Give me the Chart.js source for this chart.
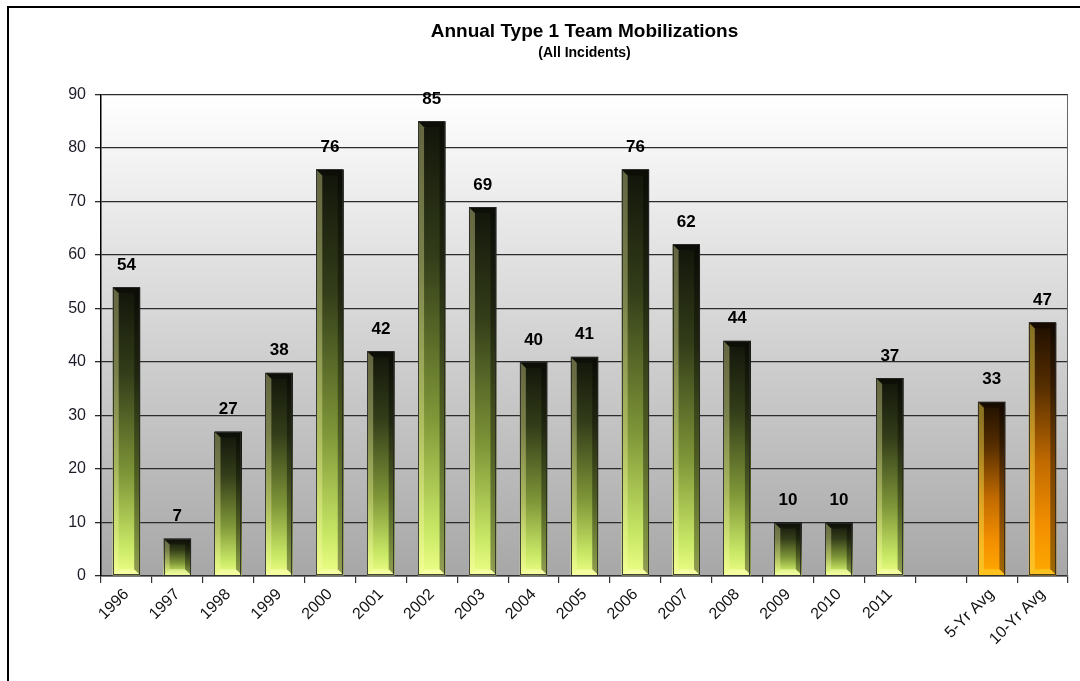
<!DOCTYPE html>
<html>
<head>
<meta charset="utf-8">
<title>Annual Type 1 Team Mobilizations</title>
<script src="https://cdn.jsdelivr.net/npm/chart.js@4.4.1/dist/chart.umd.min.js"></script>
<style>
  html, body { margin: 0; padding: 0; background: #fff; }
  #wrap { width: 1080px; height: 681px; }
</style>
</head>
<body>
<div id="wrap"><canvas id="mobChart" width="1080" height="681"></canvas></div>
<script>
(function () {
    'use strict';

    // Data
    const yearLabels = ['1996', '1997', '1998', '1999', '2000', '2001', '2002', '2003',
        '2004', '2005', '2006', '2007', '2008', '2009', '2010', '2011'];
    const yearValues = [54, 7, 27, 38, 76, 42, 85, 69, 40, 41, 76, 62, 44, 10, 10, 37];
    const avgLabels = ['5-Yr Avg', '10-Yr Avg'];
    const avgValues = [32.6, 47.4];
    const yTicks = [0, 10, 20, 30, 40, 50, 60, 70, 80, 90];

    // one empty slot between the years and the averages
    const labels = yearLabels.concat([''], avgLabels);
    const values = yearValues.concat([null], avgValues);
    const firstAvg = yearLabels.length + 1;

    const FONT = "'Liberation Sans', Arial, sans-serif";
    const GREEN_STOPS = [[0, '#11140a'], [0.3, '#333d19'], [0.65, '#7f9638'], [0.9, '#c9e866'], [1, '#eeff88']];
    const ORANGE_STOPS = [[0, '#1e0f00'], [0.25, '#552d00'], [0.55, '#c06a00'], [0.8, '#f38f00'], [1, '#ffaa00']];

    function barFill(context) {
        const chart = context.chart;
        if (!chart.chartArea || context.type !== 'data') return '#888';
        const v = context.raw;
        if (v == null) return 'rgba(0,0,0,0)';
        const y = chart.scales.y;
        const top = y.getPixelForValue(v);
        const base = y.getPixelForValue(0);
        const g = chart.ctx.createLinearGradient(0, top, 0, base);
        const stops = context.dataIndex >= firstAvg ? ORANGE_STOPS : GREEN_STOPS;
        stops.forEach(s => g.addColorStop(s[0], s[1]));
        return g;
    }

    // plot background + outer frame
    const plotBackground = {
        id: 'plotBackground',
        beforeDraw(chart) {
            const { ctx, chartArea: a } = chart;
            ctx.save();
            ctx.fillStyle = '#fff';
            ctx.fillRect(0, 0, chart.width, chart.height);
            const g = ctx.createLinearGradient(0, a.top, 0, a.bottom);
            g.addColorStop(0, '#ffffff');
            g.addColorStop(1, '#a7a7a7');
            ctx.fillStyle = g;
            ctx.fillRect(a.left, a.top, a.right - a.left, a.bottom - a.top);
            ctx.strokeStyle = '#000';
            ctx.lineWidth = 2;
            ctx.beginPath();
            ctx.moveTo(8, chart.height);
            ctx.lineTo(8, 7);
            ctx.lineTo(chart.width, 7);
            ctx.stroke();
            ctx.restore();
        },
        afterDraw(chart) {
            const { ctx, chartArea: a } = chart;
            ctx.save();
            ctx.strokeStyle = '#666';
            ctx.lineWidth = 1;
            ctx.beginPath();
            ctx.moveTo(a.right - 0.5, a.top);
            ctx.lineTo(a.right - 0.5, a.bottom);
            ctx.stroke();
            ctx.restore();
        }
    };

    // bevel edges and value labels on top of the bars
    const bevelBars = {
        id: 'bevelBars',
        afterDatasetsDraw(chart) {
            const ctx = chart.ctx;
            const meta = chart.getDatasetMeta(0);
            const data = chart.data.datasets[0].data;
            ctx.save();
            meta.data.forEach((bar, i) => {
                const v = data[i];
                if (v == null) return;
                const p = bar.getProps(['x', 'y', 'base', 'width'], true);
                const l = p.x - p.width / 2, r = p.x + p.width / 2;
                const t = p.y, b = p.base;
                const e = Math.min(6, (b - t) / 3);
                const avg = i >= firstAvg;

                // left highlight
                ctx.fillStyle = avg ? 'rgba(255,230,80,0.45)' : 'rgba(255,255,170,0.35)';
                ctx.beginPath();
                ctx.moveTo(l, t); ctx.lineTo(l + e, t + e); ctx.lineTo(l + e, b - e); ctx.lineTo(l, b);
                ctx.fill();
                // right shade
                ctx.fillStyle = 'rgba(0,0,0,0.38)';
                ctx.beginPath();
                ctx.moveTo(r, t); ctx.lineTo(r - e, t + e); ctx.lineTo(r - e, b - e); ctx.lineTo(r, b);
                ctx.fill();
                // top shade
                ctx.fillStyle = 'rgba(0,0,0,0.3)';
                ctx.beginPath();
                ctx.moveTo(l, t); ctx.lineTo(r, t); ctx.lineTo(r - e, t + e); ctx.lineTo(l + e, t + e);
                ctx.fill();
                // bottom highlight
                ctx.fillStyle = avg ? 'rgba(255,220,60,0.5)' : 'rgba(255,255,190,0.5)';
                ctx.beginPath();
                ctx.moveTo(l, b); ctx.lineTo(r, b); ctx.lineTo(r - e, b - e); ctx.lineTo(l + e, b - e);
                ctx.fill();

                // outline
                ctx.strokeStyle = 'rgba(40,40,40,0.85)';
                ctx.lineWidth = 1;
                ctx.strokeRect(Math.round(l) + 0.5, Math.round(t) + 0.5, Math.round(r - l) - 1, Math.round(b - t) - 1);

                // value label
                ctx.fillStyle = '#000';
                ctx.font = 'bold 17px ' + FONT;
                ctx.textAlign = 'center';
                ctx.textBaseline = 'middle';
                ctx.fillText(String(Math.round(v)), p.x, t - 22);
            });
            ctx.restore();
        }
    };

    new Chart(document.getElementById('mobChart'), {
        type: 'bar',
        data: {
            labels: labels,
            datasets: [{
                label: 'Mobilizations',
                data: values,
                backgroundColor: barFill,
                borderWidth: 0,
                barPercentage: 0.54,
                categoryPercentage: 1.0,
            }],
        },
        options: {
            responsive: false,
            animation: false,
            devicePixelRatio: 1,
            layout: { padding: { left: 10, right: 12, top: 10, bottom: 13 } },
            plugins: {
                legend: { display: false },
                tooltip: { enabled: false },
                title: {
                    display: true,
                    fullSize: false,
                    text: 'Annual Type 1 Team Mobilizations',
                    color: '#000',
                    font: { family: FONT, size: 19, weight: 'bold', lineHeight: 1.2 },
                    padding: { top: 10, bottom: 0 },
                },
                subtitle: {
                    display: true,
                    fullSize: false,
                    text: '(All Incidents)',
                    color: '#000',
                    font: { family: FONT, size: 14, weight: 'bold', lineHeight: 1.2 },
                    padding: { top: 2, bottom: 33 },
                },
            },
            scales: {
                x: {
                    offset: true,
                    grid: { offset: true, drawOnChartArea: false, drawTicks: true, tickLength: 7, color: '#333', lineWidth: 1.2 },
                    border: { color: '#333', width: 1.5 },
                    ticks: {
                        autoSkip: false,
                        minRotation: 45,
                        maxRotation: 45,
                        padding: 2,
                        color: '#111',
                        font: { family: FONT, size: 16 },
                    },
                    afterFit(scale) { scale.height = 92; },
                },
                y: {
                    min: yTicks[0],
                    max: yTicks[yTicks.length - 1],
                    afterBuildTicks(scale) { scale.ticks = yTicks.map(v => ({ value: v })); },
                    grid: { color: '#2b2b2b', lineWidth: 1.3, tickLength: 6 },
                    border: { color: '#000', width: 1.5 },
                    ticks: {
                        padding: 9,
                        color: '#1c1c2a',
                        font: { family: FONT, size: 16 },
                    },
                    afterFit(scale) { scale.width = 91; },
                },
            },
        },
        plugins: [plotBackground, bevelBars],
    });
})();
</script>
</body>
</html>
